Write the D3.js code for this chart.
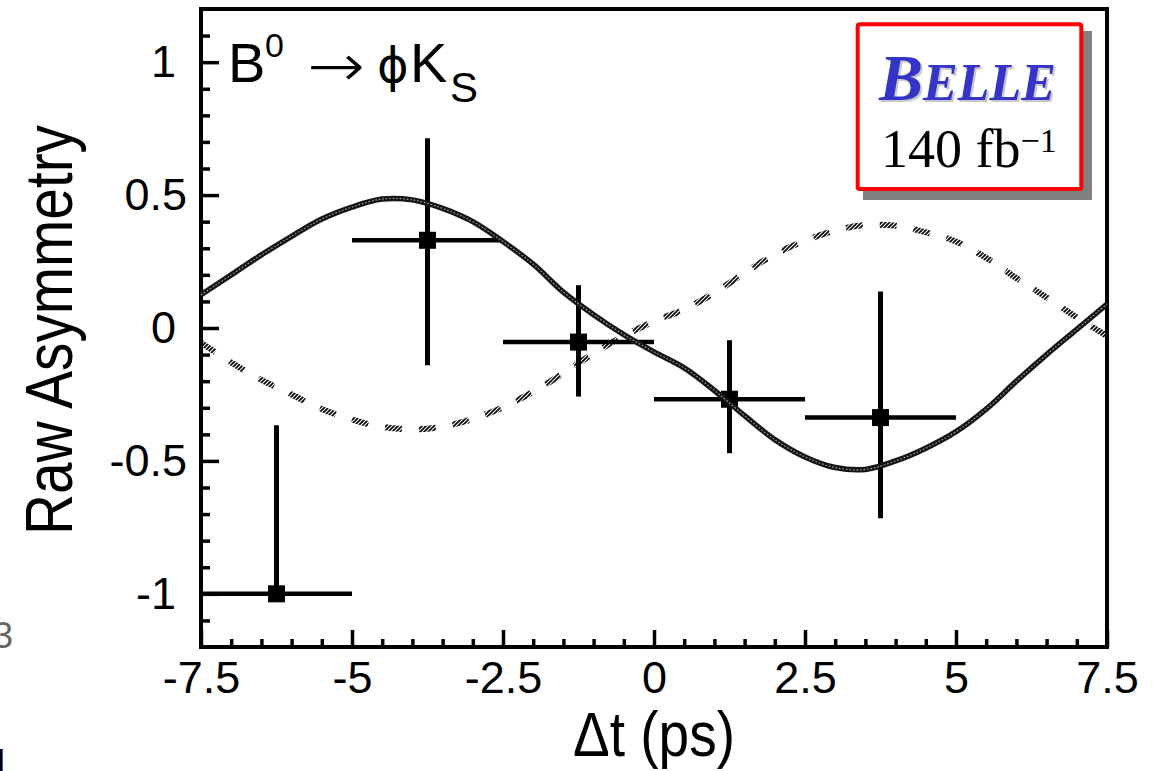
<!DOCTYPE html>
<html>
<head>
<meta charset="utf-8">
<script src="https://cdn.jsdelivr.net/npm/d3@7"></script>
<style>
  body { margin: 0; background: #fff; }
  svg { display: block; }
</style>
</head>
<body>
<div id="chart"></div>
<script>
// measured raw asymmetry per dt bin
var binCenters = [-6.25, -3.75, -1.25, 1.25, 3.75];
var binHalfWidth = 1.25;
var asym = [-1.0, 0.33, -0.053, -0.268, -0.337];
var asymLow = [-1.0, -0.14, -0.258, -0.471, -0.716];
var asymHigh = [-0.366, 0.714, 0.161, -0.046, 0.137];

// curves
var curveT = [-7.5, -7, -6.5, -6, -5.5, -5, -4.5, -4, -3.5, -3, -2.5, -2, -1.5, -1, -0.5, 0,
              0.5, 1, 1.5, 2, 2.5, 3, 3.5, 4, 4.5, 5, 5.5, 6, 6.5, 7, 7.5];
var fitCurve = [0.125, 0.20, 0.275, 0.345, 0.41, 0.455, 0.485, 0.482, 0.45, 0.40, 0.325, 0.24,
                0.135, 0.05, -0.025, -0.09, -0.15, -0.235, -0.33, -0.42, -0.485, -0.525, -0.532,
                -0.50, -0.452, -0.39, -0.305, -0.20, -0.10, -0.005, 0.09];
var smCurve = [-0.055, -0.13, -0.195, -0.25, -0.305, -0.345, -0.372, -0.381, -0.371, -0.342,
               -0.298, -0.24, -0.17, -0.095, -0.03, 0.025, 0.07, 0.132, 0.207, 0.277, 0.328,
               0.367, 0.387, 0.385, 0.36, 0.325, 0.264, 0.188, 0.115, 0.04, -0.03];

// ticks
var xMajor = [-7.5, -5, -2.5, 0, 2.5, 5, 7.5];
var xMinor = [-7, -6.5, -6, -5.5, -4.5, -4, -3.5, -3, -2, -1.5, -1, -0.5,
              0.5, 1, 1.5, 2, 3, 3.5, 4, 4.5, 5.5, 6, 6.5, 7];
var yMajor = [-1, -0.5, 0, 0.5, 1];
var yMinor = [-1.1, -0.9, -0.8, -0.7, -0.6, -0.4, -0.3, -0.2, -0.1,
              0.1, 0.2, 0.3, 0.4, 0.6, 0.7, 0.8, 0.9, 1.1];

var svgWidth = 1161, svgHeight = 771;
var sans = "'Liberation Sans', Arial, Helvetica, sans-serif";
var serif = "'Liberation Serif', 'Times New Roman', serif";

var svg = d3.select("#chart").append("svg")
    .attr("width", svgWidth)
    .attr("height", svgHeight)
    .style("background", "#fff");

var x = d3.scaleLinear().domain([-7.5, 7.5]).range([201, 1107]);
var y = d3.scaleLinear().domain([-1.2, 1.2]).range([647, 9]);

// hatch used by the dashed curve
var defs = svg.append("defs");
var hatch = defs.append("pattern")
    .attr("id", "hatch")
    .attr("patternUnits", "userSpaceOnUse")
    .attr("width", 4).attr("height", 4);
hatch.append("path")
    .attr("d", "M-1,1 l2,-2 M0,4 l4,-4 M3,5 l2,-2")
    .attr("stroke", "#000")
    .attr("stroke-width", 1.7);

// axes (ticks point inwards)
function styleAxis(g) {
  g.select(".domain").remove();
  g.selectAll(".tick line").attr("stroke", "#000").attr("stroke-width", 3.5);
  g.attr("font-family", sans).attr("font-size", 45);
  g.selectAll(".tick text").attr("fill", "#000");
}

svg.append("g")
    .attr("transform", "translate(0,647)")
    .call(d3.axisBottom(x).tickValues(xMinor).tickSize(-8).tickFormat(""))
    .call(styleAxis);

svg.append("g")
    .attr("transform", "translate(0,647)")
    .call(d3.axisBottom(x).tickValues(xMajor).tickSize(-17).tickPadding(14).tickFormat(function(d) { return String(d); }))
    .call(styleAxis);

svg.append("g")
    .attr("transform", "translate(201,0)")
    .call(d3.axisLeft(y).tickValues(yMinor).tickSize(-9).tickFormat(""))
    .call(styleAxis);

var yAxisG = svg.append("g")
    .attr("transform", "translate(201,0)")
    .call(d3.axisLeft(y).tickValues(yMajor).tickSize(-18).tickPadding(14).tickFormat(function(d) { return String(d); }))
    .call(styleAxis);
// whole-number labels sit a little further left in the original
yAxisG.selectAll(".tick text")
    .attr("x", function(d) { return Number.isInteger(d) ? -25 : -14; });

// frame
svg.append("rect")
    .attr("x", x(-7.5)).attr("y", y(1.2))
    .attr("width", x(7.5) - x(-7.5))
    .attr("height", y(-1.2) - y(1.2))
    .attr("fill", "none")
    .attr("stroke", "#000")
    .attr("stroke-width", 4);

// data points with error bars
var pts = binCenters.map(function(c, i) {
  return { t: c, a: asym[i], lo: asymLow[i], hi: asymHigh[i] };
});

var pg = svg.append("g");
pg.selectAll("line.v").data(pts).enter().append("line")
    .attr("x1", d => x(d.t)).attr("x2", d => x(d.t))
    .attr("y1", d => y(d.lo)).attr("y2", d => y(d.hi))
    .attr("stroke", "#000").attr("stroke-width", 5);
pg.selectAll("line.h").data(pts).enter().append("line")
    .attr("x1", d => x(d.t - binHalfWidth)).attr("x2", d => x(d.t + binHalfWidth))
    .attr("y1", d => y(d.a)).attr("y2", d => y(d.a))
    .attr("stroke", "#000").attr("stroke-width", 4.5);
pg.selectAll("rect").data(pts).enter().append("rect")
    .attr("x", d => x(d.t) - 8.5).attr("y", d => y(d.a) - 8.5)
    .attr("width", 17).attr("height", 17)
    .attr("fill", "#000");

// curves
var line = d3.line()
    .x(function(d, i) { return x(curveT[i]); })
    .y(function(d) { return y(d); })
    .curve(d3.curveCatmullRom.alpha(0.5));

svg.append("path")
    .attr("d", line(smCurve))
    .attr("fill", "none")
    .attr("stroke", "url(#hatch)")
    .attr("stroke-width", 6)
    .attr("stroke-dasharray", "17,17");

svg.append("path")
    .attr("d", line(fitCurve))
    .attr("fill", "none")
    .attr("stroke", "#151515")
    .attr("stroke-width", 5.5);
svg.append("path")
    .attr("d", line(fitCurve))
    .attr("fill", "none")
    .attr("stroke", "#a0a0a0")
    .attr("stroke-width", 1.2)
    .attr("stroke-dasharray", "1.5,2");

// axis titles
svg.append("text")
    .attr("x", 654).attr("y", 756)
    .attr("text-anchor", "middle")
    .attr("font-family", sans).attr("font-size", 63)
    .attr("textLength", 162).attr("lengthAdjust", "spacingAndGlyphs")
    .text("Δt (ps)");

svg.append("text")
    .attr("transform", "translate(72,330) rotate(-90)")
    .attr("text-anchor", "middle")
    .attr("font-family", sans).attr("font-size", 66)
    .attr("textLength", 410).attr("lengthAdjust", "spacingAndGlyphs")
    .text("Raw Asymmetry");

// decay label
var title = svg.append("g").attr("font-family", sans).attr("fill", "#000");
title.append("text").attr("x", 228).attr("y", 82).attr("font-size", 56).text("B");
title.append("text").attr("x", 265).attr("y", 57).attr("font-size", 34).text("0");
// thin the heavy arrow glyph with a white outline
title.append("text").attr("x", 306).attr("y", 87).attr("font-size", 62)
    .attr("font-family", "'DejaVu Sans', sans-serif")
    .attr("stroke", "#fff").attr("stroke-width", 1.8)
    .attr("textLength", 60).attr("lengthAdjust", "spacingAndGlyphs").text("→");
title.append("text").attr("x", 377).attr("y", 82).attr("font-size", 48)
    .attr("font-family", "'DejaVu Sans', sans-serif").text("ϕ");
title.append("text").attr("x", 410).attr("y", 82).attr("font-size", 56).text("K");
title.append("text").attr("x", 450).attr("y", 102).attr("font-size", 42).text("S");

// Belle box
svg.append("rect")
    .attr("x", 863).attr("y", 31).attr("width", 229).attr("height", 169)
    .attr("fill", "#808080");
svg.append("rect")
    .attr("x", 857.7).attr("y", 24.3).attr("width", 223.6).attr("height", 164.7)
    .attr("rx", 2)
    .attr("fill", "#fff").attr("stroke", "#ff0000").attr("stroke-width", 4);

function belle(g, dx, dy, fill) {
  var t = g.append("text")
      .attr("x", 879 + dx).attr("y", 100 + dy)
      .attr("font-family", serif).attr("font-weight", "bold").attr("font-style", "italic")
      .attr("fill", fill);
  t.append("tspan").attr("font-size", 66).text("B");
  t.append("tspan").attr("font-size", 52).text("ELLE");
}
var box = svg.append("g");
belle(box, 2, 2, "#c8c8c8");
belle(box, 0, 0, "#3434c8");

var lum = box.append("text")
    .attr("x", 881).attr("y", 167)
    .attr("font-family", serif).attr("fill", "#000");
lum.append("tspan").attr("font-size", 54).text("140 fb");
lum.append("tspan").attr("font-size", 34).attr("dy", -15).text("−1");

// cropped bits at the left edge
svg.append("text").attr("x", -7).attr("y", 648)
    .attr("font-family", sans).attr("font-size", 36).attr("fill", "#666").text("3");
svg.append("text").attr("x", -13).attr("y", 778)
    .attr("font-family", sans).attr("font-size", 42).attr("font-weight", "bold")
    .attr("fill", "#000").text("1");
</script>
</body>
</html>
